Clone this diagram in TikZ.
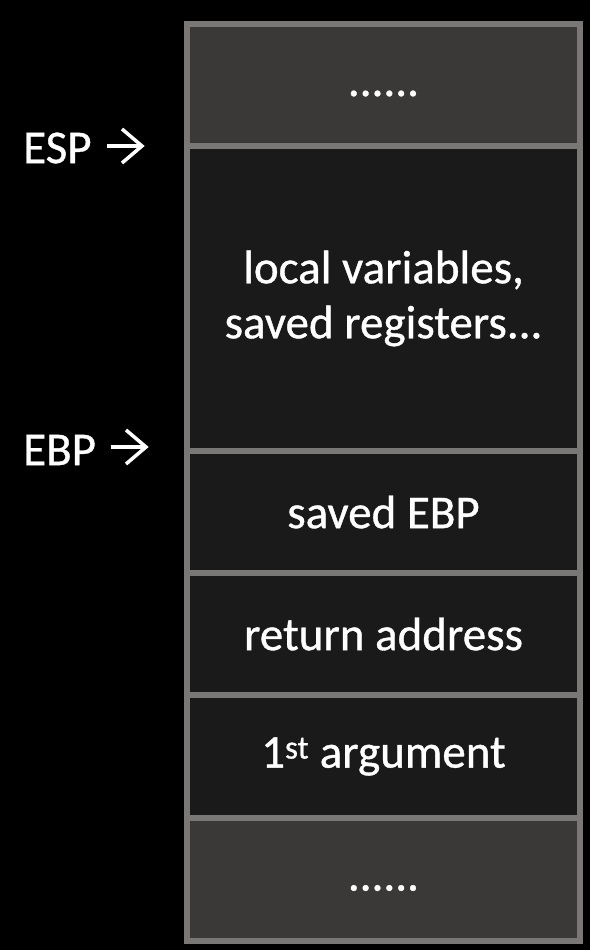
\documentclass[tikz,border=0pt]{standalone}
\usepackage{fontspec}
\setmainfont{Carlito}[FakeBold=0.8]
\definecolor{cellgray}{HTML}{3A3937}
\definecolor{celldark}{HTML}{1A1A1A}
\definecolor{gridline}{HTML}{7A7876}
\begin{document}
\begin{tikzpicture}[x=1pt,y=-1pt,
  cell/.style={draw=gridline, line width=6pt, minimum width=393pt, anchor=north west,
    inner sep=0pt, text=white, align=center, font=\fontsize{47}{55}\selectfont},
  reg/.style={text=white, font=\fontsize{47}{55}\selectfont, anchor=west, inner sep=0pt},
  ptr/.style={draw=white, line width=3.5pt, line cap=butt, line join=miter}
]
\fill[black] (0,0) rectangle (590,950);
\useasboundingbox (0,0) rectangle (590,950);

% stack frame cells, top to bottom
\node[cell, fill=cellgray, minimum height=122pt] (top) at (184,21) {\strut......};
\node[cell, fill=celldark, minimum height=305pt] (locals) at (184,143) {local variables,\\saved registers...};
\node[cell, fill=celldark, minimum height=122pt] (sebp) at (184,448) {saved EBP};
\node[cell, fill=celldark, minimum height=122pt] (ret) at (184,570) {return address};
\node[cell, fill=celldark, minimum height=123pt] (arg) at (184,692) {1\textsuperscript{st} argument};
\node[cell, fill=cellgray, minimum height=123pt] (bot) at (184,815) {\strut......};

% register labels with pointer arrows (shaft plus open chevron head)
\node[reg] (esp) at (23,148) {ESP};
\coordinate (espend) at (142,146);
\draw[ptr] ([xshift=15pt]esp.east |- espend) -- ([xshift=-2pt]espend);
\draw[ptr] ([shift={(-20,-17)}]espend) -- (espend) -- ([shift={(-20,17)}]espend);
\node[reg] (ebp) at (23,450) {EBP};
\coordinate (ebpend) at (146,447);
\draw[ptr] ([xshift=15pt]ebp.east |- ebpend) -- ([xshift=-2pt]ebpend);
\draw[ptr] ([shift={(-20,-17)}]ebpend) -- (ebpend) -- ([shift={(-20,17)}]ebpend);
\end{tikzpicture}
\end{document}
